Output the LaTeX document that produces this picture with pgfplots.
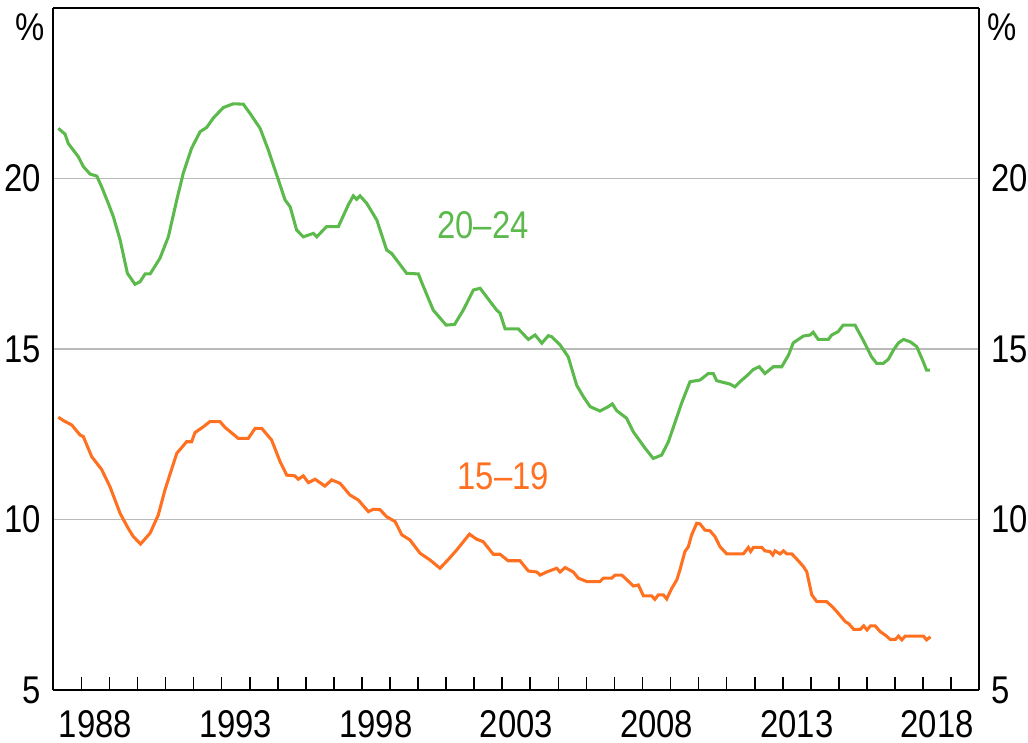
\documentclass[border=0pt]{standalone}
\usepackage{fontspec}
\setmainfont{Liberation Sans}[FakeStretch=0.85]
\usepackage{pgfplots}
\pgfplotsset{compat=1.18}

\definecolor{grn}{RGB}{92,186,76}
\definecolor{org}{RGB}{255,112,32}

\pgfplotsset{
  rbastyle/.style={
    scale only axis,
    width=347.25pt, height=255.75pt,
    xmin=1987, xmax=2020, ymin=5, ymax=25,
    ytick={5,10,15,20},
    /pgf/number format/assume math mode=true,
    tick label style={font=\fontsize{14.5}{16}\selectfont},
    axis line style={line width=0.7pt},
    major tick length=0pt,
  }
}

\begin{document}
\begin{tikzpicture}
\begin{axis}[
  rbastyle,
  axis y line*=left,
  axis x line*=bottom,
  ymajorgrids,
  y grid style={color=black!27, line width=0.6pt},
  yticklabel style={xshift=-1pt},
  ytick style={draw=none},
  major tick length=4.9pt,
  xtick={1988,...,2019},
  xticklabels={},
  x tick style={black, line width=0.6pt},
  xtick align=inside,
  extra x ticks={1988.5,1993.5,1998.5,2003.5,2008.5,2013.5,2018.5},
  extra x tick labels={1988,1993,1998,2003,2008,2013,2018},
  extra x tick style={major tick length=0pt, xticklabel style={yshift=-4pt}},
  clip=false,
]
\addplot[color=grn, line width=1.15pt] coordinates {
(1987.18,21.47) (1987.42,21.30) (1987.53,21.03) (1987.89,20.64) (1988.07,20.35)
(1988.31,20.13) (1988.55,20.07) (1988.72,19.76) (1988.96,19.27) (1989.14,18.88)
(1989.38,18.20) (1989.64,17.22) (1989.91,16.90) (1990.09,16.97) (1990.27,17.20)
(1990.45,17.20) (1990.80,17.66) (1991.10,18.29) (1991.40,19.37) (1991.63,20.15)
(1991.93,20.89) (1992.23,21.37) (1992.47,21.50) (1992.70,21.77) (1993.06,22.08)
(1993.41,22.19) (1993.77,22.18) (1994.01,21.91) (1994.37,21.47) (1994.66,20.84)
(1995.02,19.96) (1995.26,19.37) (1995.44,19.17) (1995.67,18.49) (1995.91,18.29)
(1996.27,18.39) (1996.39,18.29) (1996.74,18.59) (1997.16,18.59) (1997.51,19.22)
(1997.69,19.49) (1997.81,19.39) (1997.93,19.49) (1998.17,19.27) (1998.53,18.78)
(1998.88,17.90) (1999.06,17.80) (1999.59,17.22) (2000.01,17.20) (2000.19,16.83)
(2000.54,16.14) (2001.00,15.70) (2001.30,15.72) (2001.61,16.14) (2001.97,16.73)
(2002.21,16.78) (2002.80,16.14) (2002.92,16.05) (2003.10,15.59) (2003.57,15.59)
(2003.93,15.28) (2004.17,15.41) (2004.41,15.17) (2004.64,15.39) (2004.76,15.36)
(2005.06,15.12) (2005.35,14.77) (2005.65,13.94) (2005.89,13.60) (2006.13,13.31)
(2006.48,13.18) (2006.78,13.31) (2006.92,13.39) (2007.08,13.19) (2007.43,12.97)
(2007.67,12.57) (2008.09,12.09) (2008.38,11.79) (2008.68,11.89) (2008.92,12.28)
(2009.39,13.41) (2009.69,14.04) (2010.05,14.09) (2010.34,14.28) (2010.52,14.28)
(2010.64,14.07) (2011.12,13.97) (2011.29,13.89) (2011.47,14.04) (2011.71,14.21)
(2011.95,14.40) (2012.16,14.48) (2012.36,14.28) (2012.66,14.48) (2012.96,14.48)
(2013.20,14.82) (2013.37,15.18) (2013.73,15.38) (2013.97,15.41) (2014.08,15.49)
(2014.26,15.28) (2014.62,15.28) (2014.74,15.41) (2014.97,15.51) (2015.15,15.70)
(2015.57,15.70) (2015.86,15.26) (2016.16,14.77) (2016.34,14.58) (2016.58,14.58)
(2016.76,14.70) (2016.94,14.97) (2017.12,15.18) (2017.30,15.28) (2017.54,15.21)
(2017.77,15.07) (2018.00,14.63) (2018.12,14.38) (2018.24,14.38)
};
\addplot[color=org, line width=1.15pt] coordinates {
(1987.18,13.00) (1987.36,12.90) (1987.66,12.77) (1987.95,12.48) (1988.07,12.43)
(1988.37,11.84) (1988.72,11.47) (1989.02,10.96) (1989.38,10.18) (1989.67,9.74)
(1989.85,9.50) (1990.11,9.28) (1990.45,9.60) (1990.74,10.13) (1990.98,10.87)
(1991.40,11.94) (1991.75,12.28) (1991.93,12.28) (1992.05,12.55) (1992.35,12.72)
(1992.58,12.87) (1992.94,12.87) (1993.12,12.70) (1993.59,12.38) (1993.95,12.38)
(1994.19,12.67) (1994.43,12.67) (1994.78,12.33) (1995.08,11.70) (1995.32,11.30)
(1995.61,11.28) (1995.73,11.18) (1995.91,11.28) (1996.09,11.08) (1996.33,11.18)
(1996.68,10.98) (1996.92,11.16) (1997.22,11.06) (1997.57,10.72) (1997.87,10.57)
(1998.23,10.23) (1998.40,10.30) (1998.64,10.29) (1998.88,10.08) (1999.18,9.94)
(1999.42,9.55) (1999.71,9.40) (2000.07,9.01) (2000.43,8.81) (2000.78,8.57)
(2001.08,8.83) (2001.38,9.11) (2001.83,9.57) (2002.09,9.42) (2002.32,9.35)
(2002.68,8.98) (2002.92,8.98) (2003.21,8.79) (2003.63,8.79) (2003.93,8.49)
(2004.23,8.46) (2004.35,8.37) (2004.58,8.46) (2004.94,8.57) (2005.06,8.46)
(2005.24,8.59) (2005.53,8.46) (2005.71,8.28) (2006.01,8.18) (2006.48,8.18)
(2006.60,8.28) (2006.90,8.28) (2007.02,8.37) (2007.26,8.37) (2007.43,8.24)
(2007.67,8.05) (2007.85,8.08) (2008.03,7.76) (2008.32,7.76) (2008.44,7.66)
(2008.56,7.79) (2008.74,7.79) (2008.86,7.67) (2009.04,7.98) (2009.22,8.23)
(2009.33,8.52) (2009.51,9.06) (2009.63,9.20) (2009.75,9.55) (2009.93,9.89)
(2010.05,9.87) (2010.22,9.69) (2010.40,9.67) (2010.58,9.50) (2010.76,9.20)
(2011.00,8.99) (2011.59,8.99) (2011.77,9.18) (2011.85,9.06) (2011.95,9.18)
(2012.25,9.18) (2012.36,9.08) (2012.54,9.06) (2012.64,8.96) (2012.72,9.08)
(2012.90,8.99) (2013.02,9.08) (2013.14,8.99) (2013.32,8.99) (2013.55,8.79)
(2013.73,8.62) (2013.85,8.47) (2014.03,7.79) (2014.21,7.59) (2014.56,7.59)
(2014.74,7.46) (2014.92,7.30) (2015.23,7.00) (2015.34,6.95) (2015.52,6.78)
(2015.76,6.78) (2015.88,6.88) (2016.00,6.76) (2016.12,6.88) (2016.29,6.88)
(2016.47,6.71) (2016.65,6.61) (2016.83,6.48) (2017.01,6.48) (2017.12,6.58)
(2017.24,6.47) (2017.36,6.58) (2018.01,6.58) (2018.12,6.47) (2018.26,6.56)
};
\node[text=grn, font=\fontsize{14.5}{16}\selectfont] at (axis cs:2002.31,18.64) {20–24};
\node[text=org, font=\fontsize{14.5}{16}\selectfont] at (axis cs:2003.04,11.26) {15–19};
\node[anchor=north east, font=\fontsize{14.5}{16}\selectfont, inner sep=0pt] at ([xshift=-3pt,yshift=-2pt]rel axis cs:0,1) {\%};
\node[anchor=north west, font=\fontsize{14.5}{16}\selectfont, inner sep=0pt] at ([xshift=3pt,yshift=-2pt]rel axis cs:1,1) {\%};
\end{axis}
\begin{axis}[
  rbastyle,
  axis y line*=right,
  axis x line*=top,
  xtick=\empty,
  yticklabel style={xshift=1pt},
]
\end{axis}
\pgfresetboundingbox
\path (-19.99pt,-19.875pt) rectangle (365.51pt,258.75pt);
\end{tikzpicture}
\end{document}
